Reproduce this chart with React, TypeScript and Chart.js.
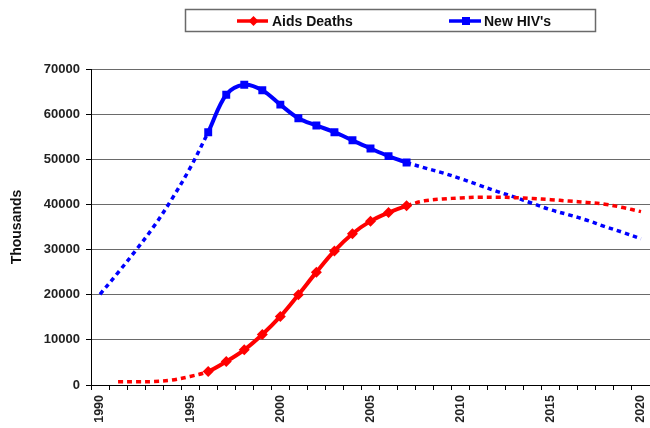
import React, { useEffect, useRef } from 'react';
import { Chart, registerables } from 'chart.js';

Chart.register(...registerables);

const years = [
  1990, 1991, 1992, 1993, 1994, 1995, 1996, 1997, 1998, 1999,
  2000, 2001, 2002, 2003, 2004, 2005, 2006, 2007, 2008, 2009,
  2010, 2011, 2012, 2013, 2014, 2015, 2016, 2017, 2018, 2019, 2020,
];

const aidsDeaths = [
  null, 700, 720, 780, 1100, 1900, 3000, 5200, 7800, 11200,
  15200, 20000, 25000, 29700, 33500, 36300, 38200, 39700, 40800, 41200,
  41450, 41600, 41600, 41500, 41300, 41050, 40750, 40450, 40050, 39300, 38400,
];

const newHiv = [
  20100, 24900, 29900, 35200, 41300, 48100, 56000, 64300, 66500, 65300,
  62100, 59100, 57500, 56000, 54200, 52400, 50700, 49300, 48100, 47000,
  45700, 44300, 42900, 41600, 40200, 38800, 37700, 36500, 35100, 33800, 32400,
];

const seriesNames = ['Aids Deaths', "New HIV's"];
const seriesColors = ['#ff0000', '#0000ff'];
const solidFrom = 1996;
const solidTo = 2007;
const yMax = 70000;
const yStep = 10000;
const yTitle = 'Thousands';

const FONT = "'Liberation Sans', Arial, Helvetica, sans-serif";

const inSolid = (i: number) => years[i] >= solidFrom && years[i] <= solidTo;

const boxLegend = {
  id: 'boxLegend',
  afterDraw(chart: any) {
    const ctx = chart.ctx as CanvasRenderingContext2D;
    ctx.save();
    ctx.strokeStyle = '#6a6a6a';
    ctx.lineWidth = 1.5;
    ctx.strokeRect(185.5, 9.5, 410, 22);
    const cy = 21;
    const items = [
      { x0: 237, x1: 268, name: seriesNames[0], color: seriesColors[0], shape: 'diamond', tx: 272 },
      { x0: 449, x1: 481, name: seriesNames[1], color: seriesColors[1], shape: 'square', tx: 484 },
    ];
    for (const it of items) {
      ctx.strokeStyle = it.color;
      ctx.fillStyle = it.color;
      ctx.lineWidth = 3.5;
      ctx.beginPath();
      ctx.moveTo(it.x0, cy);
      ctx.lineTo(it.x1, cy);
      ctx.stroke();
      const mx = (it.x0 + it.x1) / 2 + 1;
      ctx.beginPath();
      if (it.shape === 'diamond') {
        ctx.moveTo(mx - 5, cy);
        ctx.lineTo(mx, cy - 5);
        ctx.lineTo(mx + 5, cy);
        ctx.lineTo(mx, cy + 5);
        ctx.closePath();
      } else {
        ctx.rect(mx - 4, cy - 4, 8, 8);
      }
      ctx.fill();
      ctx.fillStyle = '#111';
      ctx.font = `bold 14px ${FONT}`;
      ctx.textBaseline = 'middle';
      ctx.textAlign = 'left';
      ctx.fillText(it.name, it.tx, cy + 1);
    }
    ctx.restore();
  },
};

export default function App() {
  const ref = useRef<HTMLCanvasElement | null>(null);

  useEffect(() => {
    if (!ref.current) return;
    const chart = new Chart(ref.current, {
      type: 'line',
      data: {
        labels: years.map(String),
        datasets: [
          {
            label: seriesNames[0],
            data: aidsDeaths,
            borderColor: seriesColors[0],
            backgroundColor: seriesColors[0],
            borderWidth: 3.5,
            borderDash: [5, 4],
            tension: 0.35,
            pointStyle: 'rectRot',
            pointRadius: (c: any) => (inSolid(c.dataIndex) ? 5.5 : 0),
            pointBorderWidth: 0,
            segment: {
              borderDash: (c: any) => (inSolid(c.p0DataIndex) && inSolid(c.p1DataIndex) ? [] : [5, 4]),
              borderWidth: (c: any) => (inSolid(c.p0DataIndex) && inSolid(c.p1DataIndex) ? 4 : 3.5),
            },
          },
          {
            label: seriesNames[1],
            data: newHiv,
            borderColor: seriesColors[1],
            backgroundColor: seriesColors[1],
            borderWidth: 3.5,
            borderDash: [4.5, 4],
            tension: 0.35,
            pointStyle: 'rect',
            pointRadius: (c: any) => (inSolid(c.dataIndex) ? 5.6 : 0),
            pointBorderWidth: 0,
            segment: {
              borderDash: (c: any) => (inSolid(c.p0DataIndex) && inSolid(c.p1DataIndex) ? [] : [4.5, 4]),
              borderWidth: (c: any) => (inSolid(c.p0DataIndex) && inSolid(c.p1DataIndex) ? 4 : 3.5),
            },
          },
        ],
      },
      options: {
        animation: false,
        responsive: false,
        devicePixelRatio: 1,
        layout: { padding: { left: 0, right: 0, top: 69, bottom: 0 } },
        plugins: {
          legend: { display: false },
          tooltip: { enabled: false },
        },
        scales: {
          x: {
            type: 'category',
            offset: true,
            grid: {
              offset: true,
              drawOnChartArea: false,
              drawTicks: true,
              tickLength: 5,
              tickColor: '#000',
            },
            border: { color: '#000', width: 1 },
            ticks: {
              autoSkip: false,
              maxRotation: 90,
              minRotation: 90,
              padding: 5,
              color: '#222',
              font: { family: FONT, size: 12.5, weight: 'bold' },
              callback: (_v: any, i: number) => (years[i] % 5 === 0 ? String(years[i]) : ''),
            },
            afterFit: (s: any) => {
              s.height = 43;
              s.paddingLeft = 0;
              s.paddingRight = 0;
            },
          },
          y: {
            min: 0,
            max: yMax,
            grid: {
              color: '#6a6a6a',
              lineWidth: 1,
              drawTicks: true,
              tickLength: 5,
              tickColor: '#000',
            },
            border: { color: '#000', width: 1 },
            ticks: {
              stepSize: yStep,
              padding: 6,
              color: '#222',
              font: { family: FONT, size: 13, weight: 'bold' },
              callback: (v: any) => String(v),
            },
            title: {
              display: true,
              text: yTitle,
              color: '#111',
              padding: { top: 9, bottom: 0 },
              font: { family: FONT, size: 14, weight: 'bold' },
            },
            afterFit: (s: any) => {
              s.width = 91;
            },
          },
        },
      },
      plugins: [boxLegend],
    } as any);
    return () => chart.destroy();
  }, []);

  return (
    <div style={{ position: 'fixed', left: 0, top: 0, width: 650, height: 428, background: '#fff' }}>
      <canvas ref={ref} width={650} height={428} />
    </div>
  );
}
